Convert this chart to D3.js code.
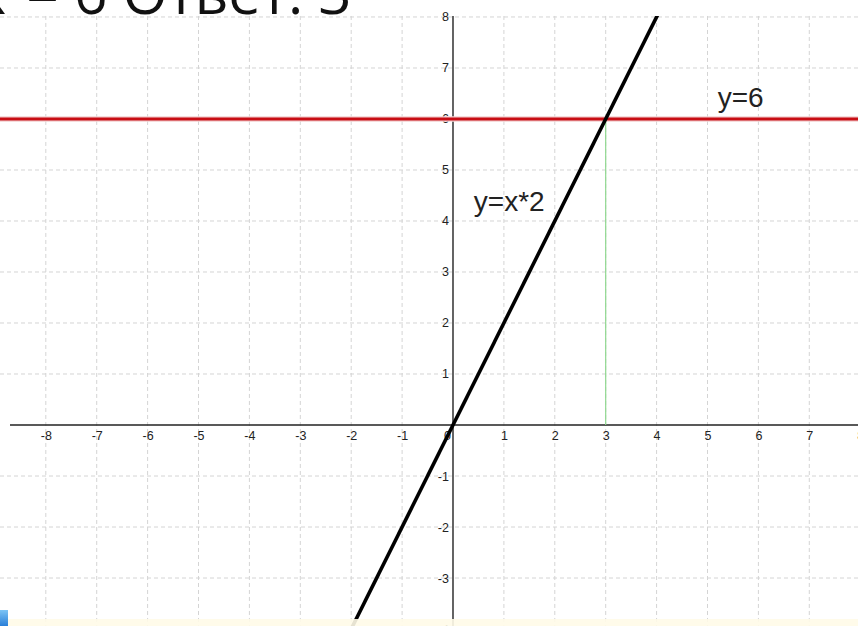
<!DOCTYPE html>
<html>
<head>
<meta charset="utf-8">
<script src="https://cdn.jsdelivr.net/npm/d3@7"></script>
<style>
  html, body { margin: 0; padding: 0; background: #fff; }
  svg { display: block; }
</style>
</head>
<body>
<script>
// Tick values along each axis
const xTicks = [-8, -7, -6, -5, -4, -3, -2, -1, 0, 1, 2, 3, 4, 5, 6, 7, 8];
const yTicks = [8, 7, 6, 5, 4, 3, 2, 1, -1, -2, -3, -4];
const gridX = [-8, -7, -6, -5, -4, -3, -2, -1, 1, 2, 3, 4, 5, 6, 7, 8];
const gridY = [-4, -3, -2, -1, 1, 2, 3, 4, 5, 6, 7, 8];

// Functions drawn: y = x*2 and y = 6, and their intersection
const slope = 2;
const lineLevel = 6;
const solutionX = lineLevel / slope;
const lineXRange = [-2.2, 4.2];

const equationLeft = "2x";
const equationRight = "= 6 Ответ: 3";
const slopeLabel = "y=x*2";
const levelLabel = "y=6";

const W = 858, H = 626;
const svg = d3.select("body").append("svg").attr("width", W).attr("height", H);

const x = d3.scaleLinear().domain([-8.9, 7.957]).range([0, W]);
const y = d3.scaleLinear().domain([-3.941, 8.333]).range([H, 0]);

const plotTop = y(8) - 1;

// clip for the plotting area (below the top boundary)
const defs = svg.append("defs");
defs.append("clipPath").attr("id", "plot")
  .append("rect").attr("x", 0).attr("y", plotTop).attr("width", W).attr("height", H - plotTop);

// dashed grid
const grid = svg.append("g").attr("stroke", "#d4d4d4").attr("stroke-width", 1)
  .attr("stroke-dasharray", "4,3");
grid.selectAll("line.v").data(gridX).join("line").attr("class", "v")
  .attr("x1", d => x(d)).attr("x2", d => x(d))
  .attr("y1", plotTop).attr("y2", H);
grid.selectAll("line.h").data(gridY).join("line").attr("class", "h")
  .attr("x1", 0).attr("x2", W)
  .attr("y1", d => y(d)).attr("y2", d => y(d));

// axes lines
svg.append("line").attr("x1", 10).attr("x2", W).attr("y1", y(0)).attr("y2", y(0))
  .attr("stroke", "#222").attr("stroke-width", 1.4);
svg.append("line").attr("x1", x(0)).attr("x2", x(0)).attr("y1", plotTop).attr("y2", H)
  .attr("stroke", "#222").attr("stroke-width", 1.4);

// tick labels
const xAxis = d3.axisBottom(x).tickValues(xTicks).tickSize(0).tickPadding(6)
  .tickFormat(d => String(d));
const gx = svg.append("g").attr("transform", `translate(0,${y(0)})`).call(xAxis);
gx.select(".domain").remove();
gx.selectAll("text").attr("font-family", "Liberation Sans, Arial, sans-serif")
  .attr("font-size", 12.5).attr("fill", "#222")
  .attr("dx", d => d === 0 ? -6 : 0);

const yAxis = d3.axisLeft(y).tickValues(yTicks).tickSize(0).tickPadding(4)
  .tickFormat(d => String(d));
const gy = svg.append("g").attr("transform", `translate(${x(0)},0)`).call(yAxis);
gy.select(".domain").remove();
gy.selectAll("text").attr("font-family", "Liberation Sans, Arial, sans-serif")
  .attr("font-size", 12.5).attr("fill", "#222");

// vertical marker from the intersection down to the x axis
svg.append("line")
  .attr("x1", x(solutionX)).attr("x2", x(solutionX))
  .attr("y1", y(lineLevel)).attr("y2", y(0))
  .attr("stroke", "#8fd88f").attr("stroke-width", 1.2);

// y = 6
svg.append("line").attr("x1", 0).attr("x2", W)
  .attr("y1", y(lineLevel)).attr("y2", y(lineLevel))
  .attr("stroke", "#f3d0d0").attr("stroke-width", 5.5);
svg.append("line").attr("x1", 0).attr("x2", W)
  .attr("y1", y(lineLevel)).attr("y2", y(lineLevel))
  .attr("stroke", "#c80d14").attr("stroke-width", 3.2);

// y = x*2
const line = d3.line().x(d => x(d)).y(d => y(slope * d));
svg.append("path").datum(lineXRange)
  .attr("clip-path", "url(#plot)")
  .attr("d", line).attr("fill", "none")
  .attr("stroke", "#000").attr("stroke-width", 3.6);

// function labels
svg.append("text").attr("x", x(5.2)).attr("y", y(6.23))
  .attr("font-family", "Liberation Sans, Arial, sans-serif").attr("font-size", 28)
  .attr("fill", "#222").text(levelLabel);
svg.append("text").attr("x", x(0.41)).attr("y", y(4.2))
  .attr("font-family", "Liberation Sans, Arial, sans-serif").attr("font-size", 28)
  .attr("fill", "#222").text(slopeLabel);

// equation heading, partly above the frame
const heading = svg.append("text").attr("y", 14)
  .attr("font-family", "Open Sans, sans-serif").attr("font-size", 58)
  .attr("fill", "#111");
const left = heading.append("tspan").text(equationLeft);
heading.append("tspan").attr("x", 26).text(equationRight);
const leftLen = left.node().getComputedTextLength();
left.attr("x", 6 - leftLen);

// bottom strip and corner button
svg.append("rect").attr("x", 0).attr("y", 619).attr("width", W).attr("height", 7)
  .attr("fill", "#fffbe8").attr("opacity", 0.9);
const grad = defs.append("linearGradient").attr("id", "btn")
  .attr("x1", 0).attr("y1", 0).attr("x2", 0).attr("y2", 1);
grad.append("stop").attr("offset", "0%").attr("stop-color", "#7cc4f5");
grad.append("stop").attr("offset", "100%").attr("stop-color", "#2a7fd8");
svg.append("rect").attr("x", 0).attr("y", 610).attr("width", 8).attr("height", 16)
  .attr("fill", "url(#btn)");
</script>
</body>
</html>
